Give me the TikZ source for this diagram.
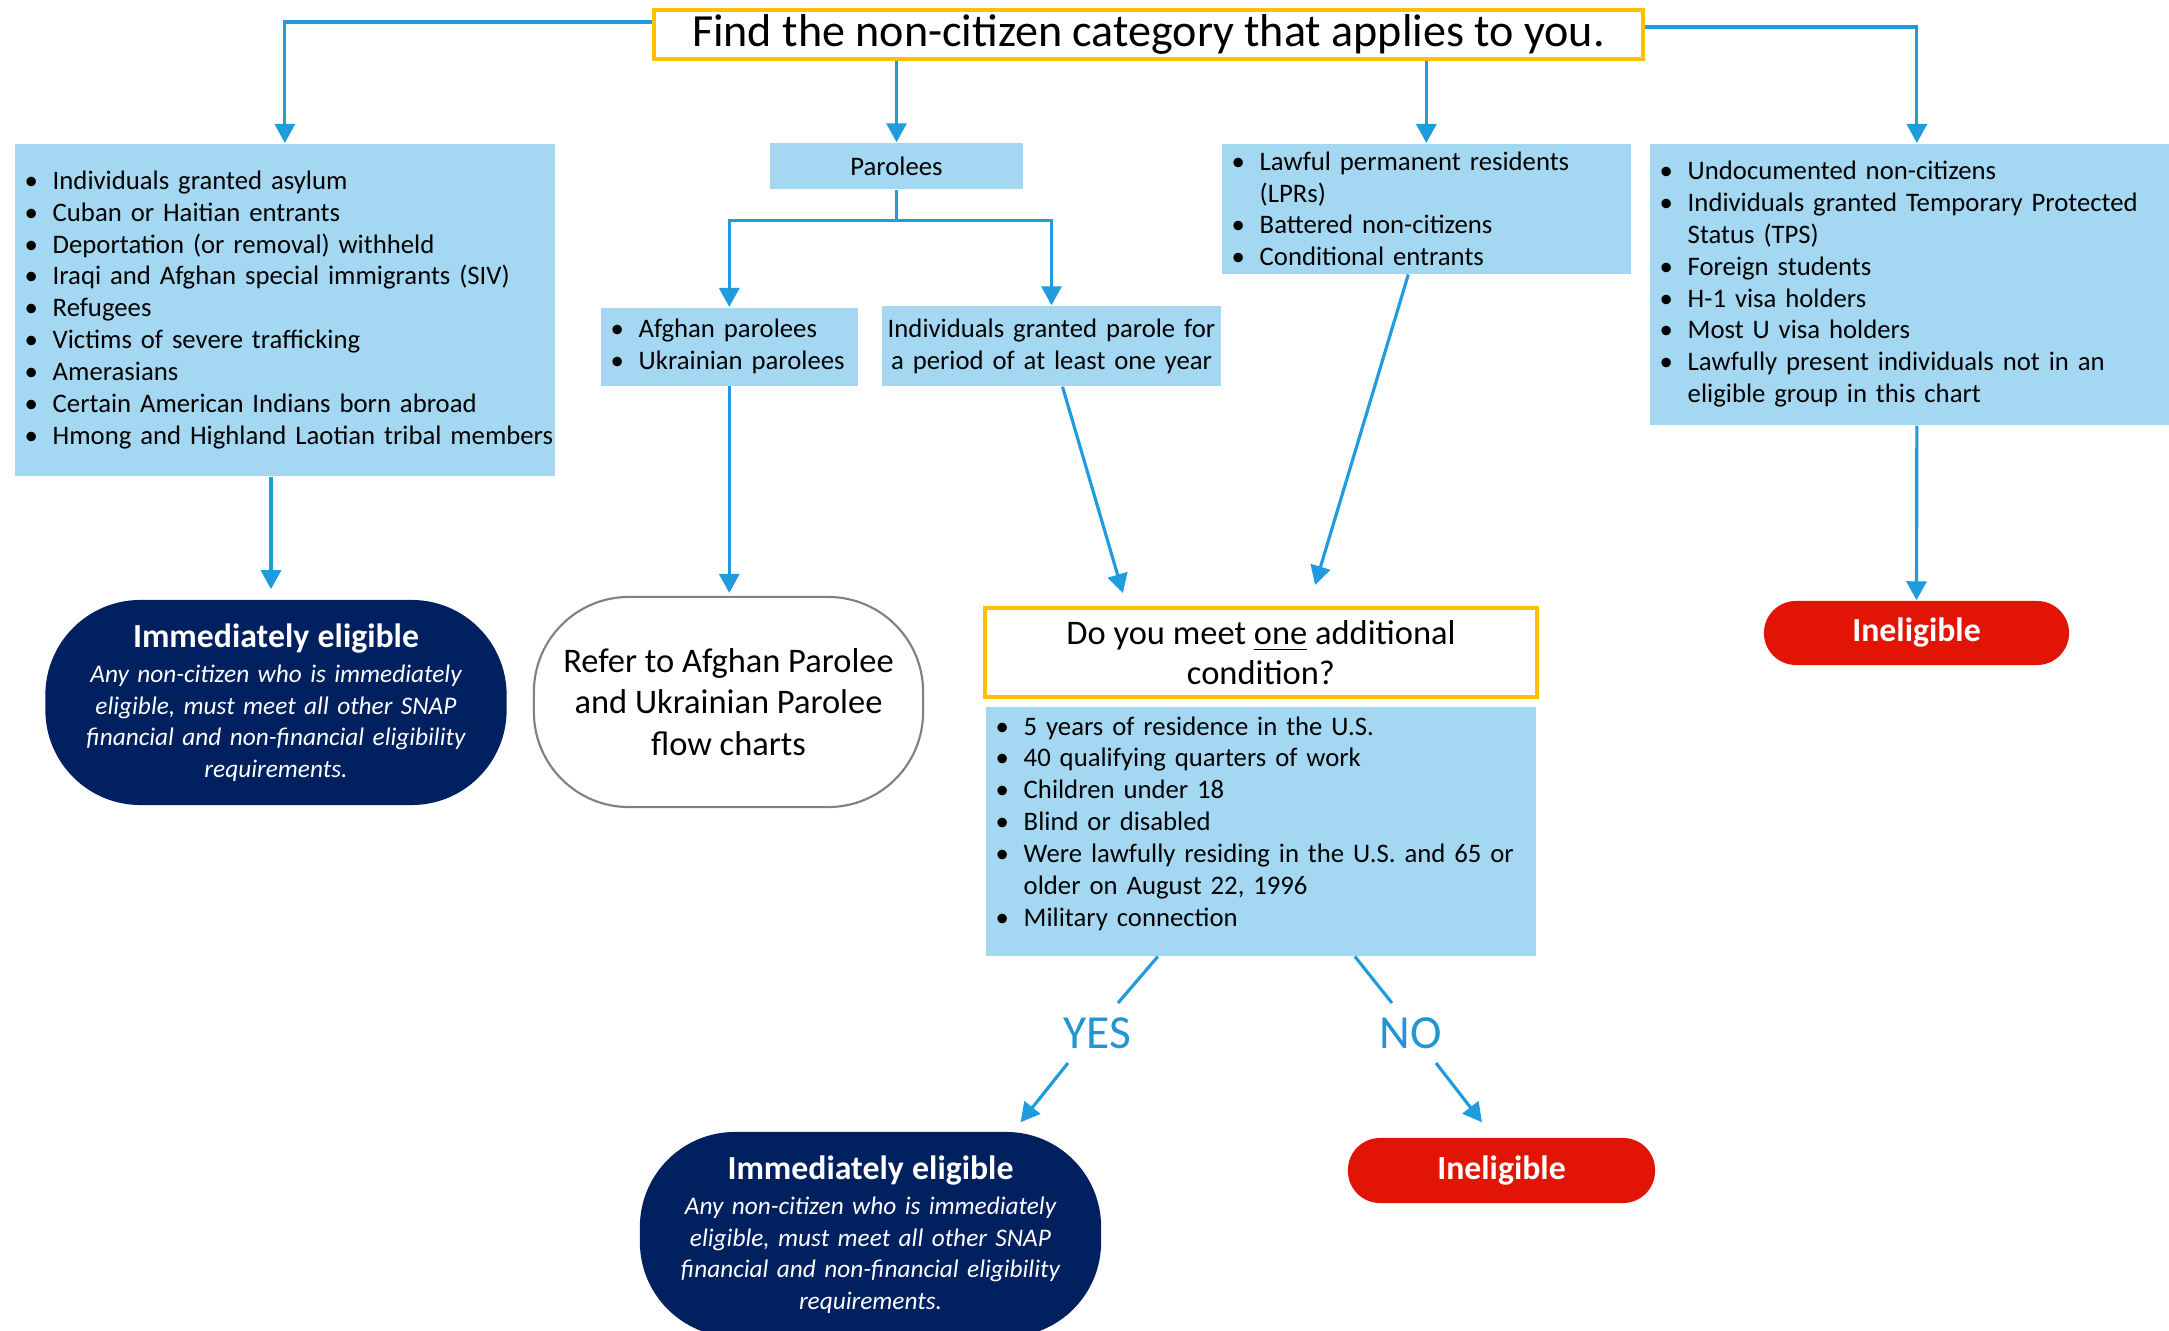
\documentclass[tikz,border=0pt]{standalone}
\usepackage{fontspec}
\setmainfont{Carlito}
\usetikzlibrary{arrows.meta}
\definecolor{lblue}{RGB}{164,216,242}
\definecolor{cblue}{RGB}{31,155,222}
\definecolor{navyc}{RGB}{0,32,96}
\definecolor{ired}{RGB}{225,20,5}
\definecolor{goldc}{RGB}{255,192,0}
\definecolor{ynblue}{RGB}{35,150,210}
\newcommand\bl[1]{\mbox{\makebox[0.28cm][l]{\textbullet}#1}}
\newcommand\cl[1]{\mbox{\hspace*{0.28cm}#1}}
\newcommand\boxfont{\fontsize{7.6}{9.05}\selectfont}
\begin{document}
\begin{tikzpicture}[x=0.01cm,y=-0.01cm,
  conn/.style={draw=cblue,line width=0.9pt},
  arr/.style={conn,-{Triangle[width=0.2cm,length=0.19cm]}},
  bluebox/.style={fill=lblue,anchor=north west,inner xsep=0.1cm,inner ysep=0,align=left,font=\boxfont},
  goldbox/.style={draw=goldc,line width=1.1pt,fill=white,inner sep=0,align=center},
  eligbox/.style={fill=navyc,text=white,rounded corners=0.95cm,minimum width=4.61cm,minimum height=2.05cm,inner sep=0,align=center,text width=4.6cm,font=\fontsize{7.2}{8.95}\selectfont\itshape},
  inelbox/.style={fill=ired,text=white,rounded corners=0.32cm,minimum height=0.64cm,inner sep=0,font=\fontsize{9.6}{11}\selectfont\bfseries},
  yn/.style={text=ynblue,inner sep=0,font=\fontsize{13.5}{15}\selectfont}
]
\clip (0,0) rectangle (2169,1331);
\fill[white] (0,0) rectangle (2169,1331);

\node[goldbox,minimum width=9.89cm,minimum height=0.49cm,font=\fontsize{13.1}{15}\selectfont] (title) at (1148.5,34.5) {\raisebox{-0.02cm}{Find the non-citizen category that applies to you.}};

\node[bluebox,text width=5.2cm,minimum height=3.32cm] (lbox) at (14,143) {\bl{Individuals granted asylum}\\\bl{Cuban or Haitian entrants}\\\bl{Deportation (or removal) withheld}\\\bl{Iraqi and Afghan special immigrants (SIV)}\\\bl{Refugees}\\\bl{Victims of severe trafficking}\\\bl{Amerasians}\\\bl{Certain American Indians born abroad}\\\bl{Hmong and Highland Laotian tribal members}};

\node[fill=lblue,minimum width=2.53cm,minimum height=0.46cm,inner sep=0,font=\boxfont] (parolees) at (896.5,166) {Parolees};

\node[bluebox,text width=2.37cm,minimum height=0.78cm] (afghan) at (600,307) {\bl{Afghan parolees}\\\bl{Ukrainian parolees}};

\node[fill=lblue,text width=3.33cm,align=center,minimum height=0.8cm,inner xsep=0.03cm,inner ysep=0,font=\boxfont] (indiv) at (1051.5,346) {Individuals granted parole for\\a period of at least one year};

\node[bluebox,text width=3.89cm,minimum height=1.3cm] (lpr) at (1221,143) {\bl{Lawful permanent residents}\\\cl{(LPRs)}\\\bl{Battered non-citizens}\\\bl{Conditional entrants}};

\node[bluebox,text width=5.14cm,minimum height=2.81cm] (rbox) at (1649,143) {\bl{Undocumented non-citizens}\\\bl{Individuals granted Temporary Protected}\\\cl{Status (TPS)}\\\bl{Foreign students}\\\bl{H-1 visa holders}\\\bl{Most U visa holders}\\\bl{Lawfully present individuals not in an}\\\cl{eligible group in this chart}};

\node[goldbox,minimum width=5.52cm,minimum height=0.89cm,font=\fontsize{9.8}{11.4}\selectfont] (dec) at (1261,652.5) {Do you meet \underline{one} additional\\condition?};

\node[bluebox,text width=5.3cm,minimum height=2.49cm] (cond) at (985,706) {\bl{5 years of residence in the U.S.}\\\bl{40 qualifying quarters of work}\\\bl{Children under 18}\\\bl{Blind or disabled}\\\bl{Were lawfully residing in the U.S. and 65 or}\\\cl{older on August 22, 1996}\\\bl{Military connection}\\[-0.12cm]\mbox{}};

\node[eligbox] (elig1) at (276,702.5) {{\fontsize{9.6}{11}\selectfont\bfseries\upshape Immediately eligible}\\[0.04cm]Any non-citizen who is immediately\\eligible, must meet all other SNAP\\financial and non-financial eligibility\\requirements.};

\node[draw=gray,line width=0.6pt,fill=white,rounded corners=0.95cm,minimum width=3.89cm,minimum height=2.1cm,inner sep=0,align=center,font=\fontsize{9.8}{11.8}\selectfont] (refer) at (728.5,702) {Refer to Afghan Parolee\\and Ukrainian Parolee\\flow charts};

\node[inelbox,minimum width=3.05cm] (inel1) at (1916.5,633) {Ineligible};

\node[eligbox] (elig2) at (870.5,1234.5) {{\fontsize{9.6}{11}\selectfont\bfseries\upshape Immediately eligible}\\[0.04cm]Any non-citizen who is immediately\\eligible, must meet all other SNAP\\financial and non-financial eligibility\\requirements.};

\node[inelbox,minimum width=3.07cm,minimum height=0.65cm] (inel2) at (1501.5,1170.5) {Ineligible};

\node[yn] (yes) at (1097,1033) {YES};
\node[yn] (no) at (1411,1033) {NO};

\coordinate (ya) at (1118,1003);
\coordinate (yb) at (1068,1063);
\coordinate (na) at (1392,1003);
\coordinate (nb) at (1436,1063);

% connectors
\draw[arr] ([yshift=-0.14cm]title.north west) -| (lbox.north);
\draw[arr] (title.south -| parolees.north) -- (parolees.north);
\draw[arr] (title.south -| lpr.north) -- (lpr.north);
\draw[arr] ([yshift=-0.19cm]title.north east) -| (rbox.north);
\draw[arr] (parolees.south) -- ++(0,31) -| (afghan.north);
\draw[arr] (parolees.south) -- ++(0,31) -| (indiv.north);
\draw[arr] ([xshift=-0.05cm]lbox.south -| elig1.north) -- ([xshift=-0.05cm,yshift=0.1cm]elig1.north);
\draw[arr] (afghan.south) -- ([yshift=0.03cm]afghan.south |- refer.north);
\draw[arr] ([xshift=0.11cm]indiv.south) -- ([xshift=-1.38cm,yshift=0.13cm]dec.north);
\draw[arr] ([xshift=-0.18cm]lpr.south) -- ([xshift=0.54cm,yshift=0.21cm]dec.north);
\draw[arr] (rbox.south) -- (inel1.north);
\draw[conn] ([xshift=-1.03cm]cond.south) -- (ya);
\draw[arr] (yb) -- ([xshift=1.5cm,yshift=0.09cm]elig2.north);
\draw[conn] ([xshift=0.94cm]cond.south) -- (na);
\draw[arr] (nb) -- ([xshift=-0.195cm,yshift=0.15cm]inel2.north);
\end{tikzpicture}
\end{document}
